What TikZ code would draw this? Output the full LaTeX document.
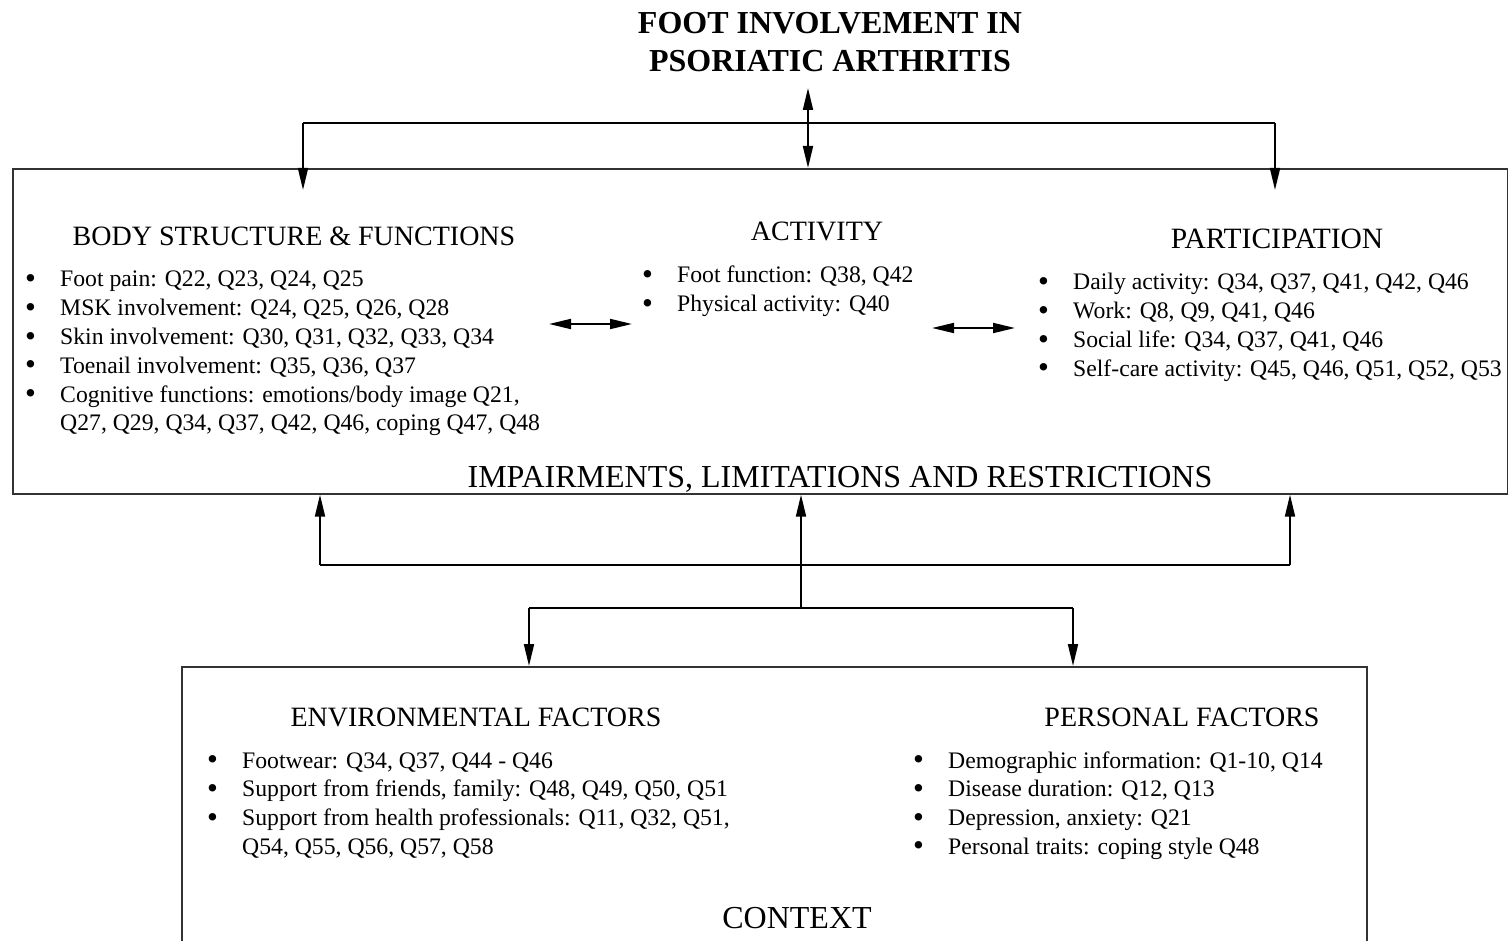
\documentclass[tikz,border=0pt]{standalone}
\usepackage{fontspec}
\setmainfont{Liberation Serif}
\usetikzlibrary{arrows.meta}

\newcommand{\itemlist}[1]{%
  \begin{tabular}[t]{@{}p{35pt}@{}l@{}}#1\end{tabular}}
\newcommand{\bigbullet}{\raisebox{-1.5pt}{\fontsize{31}{31}\selectfont\textbullet}}

\begin{document}
\begin{tikzpicture}[x=1pt,y=-1pt,
  tip/.tip={Triangle[length=22pt,width=10pt]},
  wire/.style={line width=1.9pt, black},
  conn/.style={wire, -tip},
  conn2/.style={wire, tip-tip},
  frame/.style={draw=black!80, line width=1.7pt, inner sep=0, anchor=north west},
  head/.style={font=\fontsize{28}{33}\selectfont, inner sep=0, anchor=base},
  bighead/.style={head, font=\fontsize{32}{38}\selectfont},
  itemtext/.style={font=\fontsize{23.7}{28.8}\selectfont, inner sep=0, anchor=base west},
]
\useasboundingbox (0,0) rectangle (1508,941);
\clip (0,0) rectangle (1508,941);

% title
\node[font=\fontsize{32}{38}\selectfont\bfseries, align=center, inner sep=0, anchor=base]
  (title) at (830,72) {FOOT INVOLVEMENT IN\\PSORIATIC ARTHRITIS};

% frames
\node[frame, minimum width=1495pt, minimum height=325pt] (upper) at (12,168) {};
\node[frame, minimum width=1185pt, minimum height=330pt] (lower) at (181,666) {};

% upper headings
\node[head] (body) at (294,246) {BODY STRUCTURE \& FUNCTIONS};
\node[head] (activity) at (817,241) {ACTIVITY};
\node[head, font=\fontsize{29.5}{35}\selectfont] (particip) at (1277,249) {PARTICIPATION};
\node[bighead] (impair) at (840,487) {IMPAIRMENTS, LIMITATIONS AND RESTRICTIONS};

% upper lists
\node[itemtext] (bodylist) at (25,287) {\itemlist{%
  \bigbullet & Foot pain: Q22, Q23, Q24, Q25\\
  \bigbullet & MSK involvement: Q24, Q25, Q26, Q28\\
  \bigbullet & Skin involvement: Q30, Q31, Q32, Q33, Q34\\
  \bigbullet & Toenail involvement: Q35, Q36, Q37\\
  \bigbullet & Cognitive functions: emotions/body image Q21,\\
             & Q27, Q29, Q34, Q37, Q42, Q46, coping Q47, Q48}};
\node[itemtext] (actlist) at (642,283) {\itemlist{%
  \bigbullet & Foot function: Q38, Q42\\
  \bigbullet & Physical activity: Q40}};
\node[itemtext] (partlist) at (1038,290) {\itemlist{%
  \bigbullet & Daily activity: Q34, Q37, Q41, Q42, Q46\\
  \bigbullet & Work: Q8, Q9, Q41, Q46\\
  \bigbullet & Social life: Q34, Q37, Q41, Q46\\
  \bigbullet & Self-care activity: Q45, Q46, Q51, Q52, Q53}};

% lower headings and lists
\node[head] (env) at (476,726) {ENVIRONMENTAL FACTORS};
\node[head] (pers) at (1182,726) {PERSONAL FACTORS};
\node[bighead] (context) at (797,928) {CONTEXT};
\node[itemtext] (envlist) at (207,768) {\itemlist{%
  \bigbullet & Footwear: Q34, Q37, Q44 - Q46\\
  \bigbullet & Support from friends, family: Q48, Q49, Q50, Q51\\
  \bigbullet & Support from health professionals: Q11, Q32, Q51,\\
             & Q54, Q55, Q56, Q57, Q58}};
\node[itemtext] (perslist) at (913,768) {\itemlist{%
  \bigbullet & Demographic information: Q1-10, Q14\\
  \bigbullet & Disease duration: Q12, Q13\\
  \bigbullet & Depression, anxiety: Q21\\
  \bigbullet & Personal traits: coping style Q48}};

% junction points
\coordinate (ttip) at (808,88);
\coordinate (tl) at (303,123);
\coordinate (tr) at (1275,123);
\coordinate (tlend) at (303,190);
\coordinate (trend) at (1275,190);
\coordinate (ml) at (320,565);
\coordinate (mr) at (1290,565);
\coordinate (hub) at (801,608);
\coordinate (bl) at (529,608);
\coordinate (br) at (1073,608);
\coordinate (al1) at (549,324);
\coordinate (al2) at (632,324);
\coordinate (ar1) at (932,328);
\coordinate (ar2) at (1015,328);

% top connectors
\draw[conn2] (ttip) -- (ttip |- upper.north);
\draw[wire] (tl) -- (tr);
\draw[conn] (tl) -- (tlend);
\draw[conn] (tr) -- (trend);

% links between the three domains
\draw[conn2] (al1) -- (al2);
\draw[conn2] (ar1) -- (ar2);

% context connectors
\draw[wire] (ml) -- (mr);
\draw[conn] (ml) -- (ml |- upper.south);
\draw[conn] (mr) -- (mr |- upper.south);
\draw[conn] (hub) -- (hub |- upper.south);
\draw[wire] (bl) -- (br);
\draw[conn] (bl) -- (bl |- lower.north);
\draw[conn] (br) -- (br |- lower.north);
\end{tikzpicture}
\end{document}
